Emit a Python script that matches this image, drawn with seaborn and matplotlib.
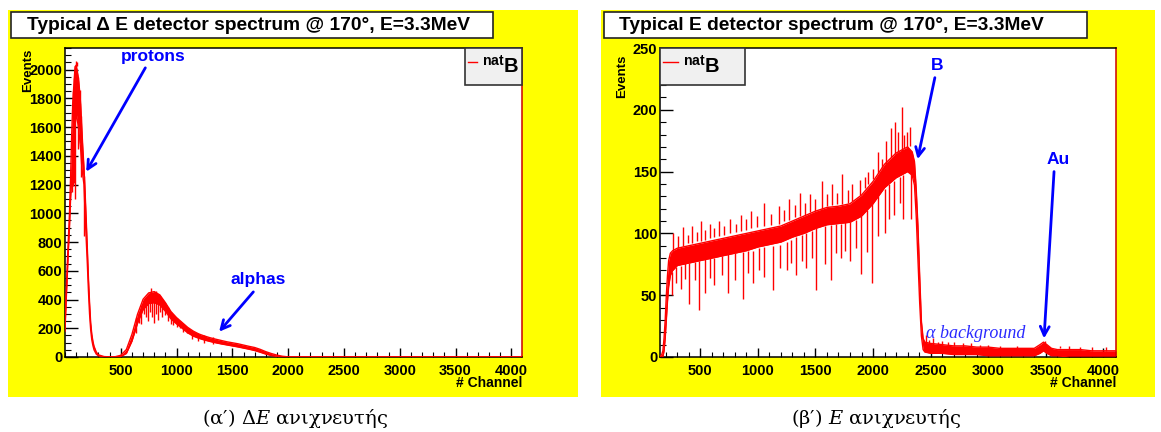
import matplotlib
matplotlib.use("Agg")
import matplotlib.pyplot as plt
from matplotlib.patches import Rectangle
from matplotlib.ticker import MultipleLocator
import seaborn as sns

# ---- Delta E detector spectrum (left) ----
dE_chan = [0, 10, 20, 30, 40, 50, 60, 70, 80, 90, 100, 110, 120, 130, 140, 150, 160, 170,
           180, 190, 200, 210, 220, 230, 240, 250, 260, 280, 300, 350, 400, 450, 500, 550,
           600, 650, 700, 750, 800, 850, 900, 950, 1000, 1050, 1100, 1150, 1200, 1250, 1300,
           1350, 1400, 1450, 1500, 1550, 1600, 1650, 1700, 1750, 1800, 1850, 1900, 1950,
           2000, 2500, 3000, 3500, 4096]
dE_low = [180, 380, 560, 740, 900, 1100, 1250, 1350, 1500, 1600, 1700, 1650, 1600, 1530,
          1450, 1330, 1260, 1200, 1000, 820, 650, 460, 300, 190, 120, 80, 50, 20, 8, 0, 0, 0,
          3, 25, 110, 235, 330, 372, 378, 362, 318, 265, 230, 200, 168, 145, 130, 118, 108,
          99, 91, 84, 77, 70, 62, 54, 45, 33, 20, 10, 3, 0, 0, 0, 0, 0, 0]
dE_high = [260, 450, 640, 820, 1000, 1250, 1550, 1780, 1900, 2020, 2030, 1990, 1940, 1860,
           1760, 1600, 1450, 1320, 1150, 960, 760, 550, 380, 240, 160, 110, 75, 35, 15, 3, 1,
           2, 12, 52, 158, 298, 402, 446, 455, 432, 378, 316, 274, 240, 206, 180, 160, 146,
           134, 124, 115, 106, 99, 92, 83, 74, 66, 53, 37, 24, 13, 5, 1, 1, 1, 1, 1]
# single-channel spikes sticking out of the band
dE_spike_ch = [60, 68, 76, 84, 92, 96, 104, 118, 132, 146, 174,
               640, 662, 684, 706, 724, 742, 758, 770, 776, 794, 812, 830, 850, 872, 896,
               920, 946, 972, 1000, 1030, 1062, 1096, 1140, 1190, 1250, 1330]
dE_spike_lo = [1150, 1190, 1250, 1210, 1100, 2020, 2025, 1450, 1490, 1250, 840,
               170, 240, 230, 300, 280, 250, 310, 440, 280, 240, 300, 260, 310, 280, 290,
               250, 230, 220, 210, 200, 175, 165, 125, 110, 100, 90]
dE_spike_hi = [1550, 1760, 1850, 1940, 2020, 2060, 2050, 1950, 1860, 1680, 1260,
               270, 315, 360, 400, 415, 432, 443, 478, 447, 450, 462, 437, 425, 400, 375,
               345, 315, 290, 268, 248, 228, 203, 182, 165, 150, 138]

# ---- E detector spectrum (right) ----
E_chan = [150, 165, 175, 185, 195, 205, 215, 225, 240, 260, 300, 400, 500, 600, 700, 800,
          900, 1000, 1100, 1200, 1300, 1400, 1500, 1600, 1700, 1800, 1900, 2000, 2100, 2200,
          2300, 2340, 2360, 2375, 2390, 2405, 2420, 2435, 2450, 2500, 2600, 2700, 2800, 2900,
          3000, 3100, 3200, 3300, 3400, 3450, 3480, 3510, 3550, 3600, 3700, 3800, 3900, 4000,
          4110]
E_low = [0, 0, 0, 5, 15, 30, 45, 57, 66, 70, 74, 76, 78, 80, 82, 84, 86, 89, 91, 93, 97,
         100, 104, 107, 108, 109, 114, 124, 137, 145, 150, 147, 139, 114, 79, 44, 17, 6, 4, 3,
         3, 2, 2, 2, 1, 1, 1, 1, 1, 3, 5, 3, 1, 1, 0, 0, 0, 0, 0]
E_high = [0, 2, 5, 15, 30, 50, 66, 78, 84, 86, 88, 90, 92, 94, 96, 98, 100, 102, 104,
          106, 110, 114, 118, 121, 122, 124, 131, 142, 156, 165, 170, 166, 158, 136, 106, 66,
          29, 15, 12, 11, 10, 9, 9, 8, 8, 7, 7, 7, 7, 10, 12, 10, 7, 6, 6, 6, 5, 5, 5]
E_spike_ch = [250, 290, 330, 370, 403, 450, 488, 540, 580, 620, 690, 740, 800, 870, 910,
              960, 1010, 1050, 1131, 1190, 1250, 1290, 1330, 1380, 1420, 1470, 1508, 1580,
              1638, 1680, 1720, 1760, 1800, 1850, 1898, 1950, 1991, 2040, 2100, 2140, 2180,
              2230, 2262, 2334,
              260, 310, 353, 390, 430, 470, 505, 540, 580, 620, 660, 710, 760, 810, 850,
              900, 940, 990, 1050, 1110, 1180, 1230, 1270, 1320, 1362, 1410, 1450, 1500,
              1553, 1600, 1640, 1690, 1727, 1780, 1820, 1886, 1930, 1960, 2000, 2045, 2080,
              2110, 2160, 2190, 2220, 2248, 2270, 2291, 2320,
              2460, 2490, 2520, 2560, 2600, 2650, 2700, 2780, 2850, 2930, 3000, 3100, 3250,
              3490, 3620, 3700, 3800, 3900, 4020]
E_spike_lo = [50, 60, 55, 63, 43, 62, 38, 52, 64, 58, 66, 52, 62, 47, 68, 60, 70, 65, 54,
              72, 70, 76, 66, 78, 72, 80, 54, 75, 62, 84, 80, 86, 78, 88, 67, 85, 60, 98,
              100, 112, 115, 125, 112, 112,
              86, 88, 90, 92, 92, 94, 94, 95, 96, 97, 98, 99, 100, 101, 102, 103, 104, 105,
              106, 107, 108, 110, 111, 113, 114, 115, 117, 118, 120, 122, 123, 124, 124,
              125, 126, 131, 137, 140, 144, 149, 153, 156, 162, 164, 166, 167, 169, 170,
              171, 10, 10, 10, 9, 9, 9, 9, 8, 8, 8, 8, 7, 7, 8, 7, 6, 6, 5, 5]
E_spike_hi = [69, 73, 74, 76, 76, 77, 78, 79, 80, 80, 82, 83, 84, 85, 86, 86, 88, 89, 90,
              91, 93, 95, 97, 99, 100, 102, 104, 106, 107, 108, 108, 109, 109, 111, 114, 119,
              124, 130, 136, 140, 142, 146, 147, 148,
              100, 98, 105, 99, 106, 101, 110, 103, 108, 104, 110, 106, 112, 108, 115, 112,
              118, 114, 125, 116, 122, 119, 128, 123, 133, 125, 132, 128, 142, 132, 140,
              133, 148, 135, 140, 143, 146, 150, 152, 166, 160, 175, 185, 190, 182, 202,
              180, 182, 186, 18, 14, 15, 12, 13, 12, 12, 11, 11, 10, 10, 9, 9, 13, 9, 9,
              8, 8, 8]

W, H = 1161, 432
RED = "#ff0000"
BLUE = "#0000ff"
YELLOW = "#ffff00"

plt.rcParams["font.family"] = ["Liberation Sans", "DejaVu Sans"]
plt.rcParams["font.weight"] = "normal"
plt.rcParams["mathtext.fontset"] = "custom"
plt.rcParams["mathtext.rm"] = "DejaVu Serif:weight=normal"
plt.rcParams["mathtext.it"] = "DejaVu Serif:style=italic:weight=normal"
plt.rcParams["mathtext.bf"] = "Liberation Sans:weight=bold"

fig = plt.figure(figsize=(W / 100, H / 100), dpi=100)
fig.patch.set_facecolor("white")


def px_rect(x0, y0, x1, y1):
    """pixel box (top-left origin) -> figure fraction rect"""
    return [x0 / W, 1 - y1 / H, (x1 - x0) / W, (y1 - y0) / H]


def box(x0, y0, x1, y1, **kw):
    r = px_rect(x0, y0, x1, y1)
    fig.add_artist(Rectangle((r[0], r[1]), r[2], r[3], transform=fig.transFigure, **kw))


# yellow pads and title boxes
box(8, 10, 578, 397, facecolor=YELLOW, edgecolor="none", zorder=0)
box(601, 10, 1155, 397, facecolor=YELLOW, edgecolor="none", zorder=0)
box(11, 12, 493, 38, facecolor="white", edgecolor="#222222", lw=1.2, zorder=1)
box(604, 12, 1087, 38, facecolor="white", edgecolor="#222222", lw=1.2, zorder=1)
fig.text(27 / W, 1 - 25 / H, "Typical \u0394 E detector spectrum @ 170\u00b0, E=3.3MeV",
         fontsize=13.8, fontweight="bold", va="center", ha="left")
fig.text(619 / W, 1 - 25 / H, "Typical E detector spectrum @ 170\u00b0, E=3.3MeV",
         fontsize=13.8, fontweight="bold", va="center", ha="left")

ax1 = fig.add_axes(px_rect(65, 48, 522, 357))
ax2 = fig.add_axes(px_rect(660, 48, 1116, 357))


def draw_spectrum(ax, chan, low, high, sp_ch, sp_lo, sp_hi):
    ax.fill_between(chan, low, high, color=RED, lw=0, zorder=2)
    sns.lineplot(x=chan, y=high, color=RED, lw=1, ax=ax, zorder=3, label="nat B")
    sns.lineplot(x=chan, y=low, color=RED, lw=1, ax=ax, zorder=3)
    ax.vlines(sp_ch, sp_lo, sp_hi, color=RED, lw=1, zorder=3)


draw_spectrum(ax1, dE_chan, dE_low, dE_high, dE_spike_ch, dE_spike_lo, dE_spike_hi)
draw_spectrum(ax2, E_chan, E_low, E_high, E_spike_ch, E_spike_lo, E_spike_hi)

ax1.set_xlim(0, 4096)
ax1.set_ylim(0, 2150)
ax1.set_xticks([500, 1000, 1500, 2000, 2500, 3000, 3500, 4000])
ax1.xaxis.set_minor_locator(MultipleLocator(100))
ax1.yaxis.set_major_locator(MultipleLocator(200))
ax1.yaxis.set_minor_locator(MultipleLocator(50))

ax2.set_xlim(150, 4110)
ax2.set_ylim(0, 250)
ax2.set_xticks([500, 1000, 1500, 2000, 2500, 3000, 3500, 4000])
ax2.xaxis.set_minor_locator(MultipleLocator(100))
ax2.yaxis.set_major_locator(MultipleLocator(50))
ax2.yaxis.set_minor_locator(MultipleLocator(10))

# legend box spans in axes fractions: (x0, width)
legend_setup = (
    (ax1, (1 - 57 / 457, 57 / 457), 0.45),
    (ax2, (0.0, 85 / 456), 0.75),
)
for ax, (lx, lw_), hlen in legend_setup:
    ax.set_facecolor("white")
    ax.set_xlabel("")
    ax.set_ylabel("")
    ax.tick_params(axis="y", which="major", direction="in", length=9, width=1, pad=2,
                   labelsize=10.5)
    ax.tick_params(axis="y", which="minor", direction="in", length=4.5, width=0.8)
    ax.tick_params(axis="x", which="major", direction="in", length=6.5, width=1, pad=5,
                   labelsize=10.5)
    ax.tick_params(axis="x", which="minor", direction="in", length=3.5, width=0.8)
    for t in ax.get_xticklabels() + ax.get_yticklabels():
        t.set_fontweight("bold")
    for s in ("left", "bottom", "top"):
        ax.spines[s].set_color("black")
        ax.spines[s].set_linewidth(1.1)
    ax.spines["right"].set_color("#cc0000")
    ax.spines["right"].set_linewidth(1.1)
    handles, _ = ax.get_legend_handles_labels()
    leg = ax.legend(handles[:1], [r"$^{\mathbf{nat}}$B"], loc="upper left",
                    bbox_to_anchor=(lx, 0, lw_, 1), mode="expand", borderaxespad=0,
                    fancybox=False, handlelength=hlen, handletextpad=0.25, borderpad=0.15,
                    handleheight=1.95,
                    prop={"family": "Liberation Sans", "weight": "bold", "size": 14.5})
    leg.get_frame().set_facecolor("#f0f0f0")
    leg.get_frame().set_edgecolor("#333333")
    leg.get_frame().set_linewidth(1.2)
    leg.get_frame().set_alpha(1)

# axis titles
fig.text(28 / W, 1 - 49 / H, "Events", rotation=90, fontsize=9.5, fontweight="bold",
         ha="center", va="top")
fig.text(622 / W, 1 - 55 / H, "Events", rotation=90, fontsize=9.5, fontweight="bold",
         ha="center", va="top")
fig.text(522 / W, 1 - 383 / H, "# Channel", fontsize=10, fontweight="bold",
         ha="right", va="center")
fig.text(1116 / W, 1 - 383 / H, "# Channel", fontsize=10, fontweight="bold",
         ha="right", va="center")

# annotations
arrow = dict(arrowstyle="->", color=BLUE, lw=2, mutation_scale=16, shrinkA=0, shrinkB=0)
ax1.text(786, 2091, "protons", color=BLUE, fontsize=12.5, fontweight="bold",
         ha="center", va="center")
ax1.annotate("", xy=(190, 1289), xytext=(720, 2012), arrowprops=arrow)
ax1.text(1732, 537, "alphas", color=BLUE, fontsize=12.5, fontweight="bold",
         ha="center", va="center")
ax1.annotate("", xy=(1381, 176), xytext=(1688, 453), arrowprops=arrow)

ax2.text(2555, 236, "B", color=BLUE, fontsize=12.5, fontweight="bold",
         ha="center", va="center")
ax2.annotate("", xy=(2387, 160), xytext=(2537, 226), arrowprops=arrow)
ax2.text(3608, 160, "Au", color=BLUE, fontsize=12.5, fontweight="bold",
         ha="center", va="center")
ax2.annotate("", xy=(3485, 15), xytext=(3572, 150), arrowprops=arrow)
ax2.text(2459, 19, "\u03b1 background", color="#2a2aff", fontsize=13,
         family="Liberation Serif", style="italic", fontweight="normal",
         ha="left", va="center")

# sub captions
greek = "\u03b1\u03bd\u03b9\u03c7\u03bd\u03b5\u03c5\u03c4\u03ae\u03c2"
fig.text(295 / W, 1 - 419 / H, "(\u03b1\u2032) $\\Delta\\mathit{E}$ " + greek,
         fontsize=14, family="DejaVu Serif", fontweight="normal", ha="center", va="center")
fig.text(876 / W, 1 - 419 / H, "(\u03b2\u2032) $\\mathit{E}$ " + greek,
         fontsize=14, family="DejaVu Serif", fontweight="normal", ha="center", va="center")

fig.savefig("out.png", dpi=100)
